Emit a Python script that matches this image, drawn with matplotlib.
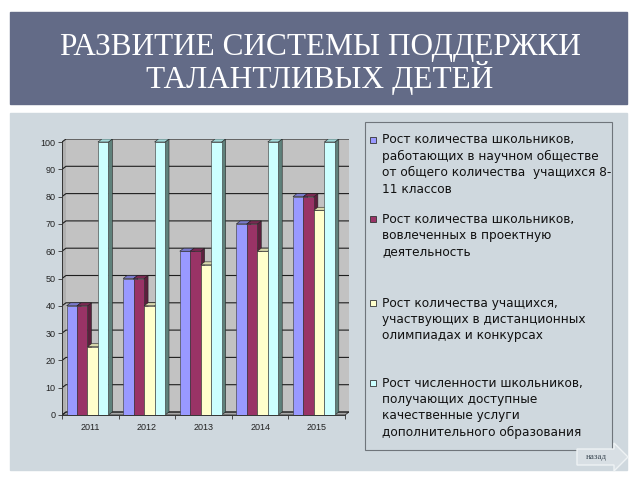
import matplotlib
matplotlib.use('Agg')
import matplotlib.pyplot as plt
from matplotlib.patches import Rectangle, Polygon

# данные
years = ['2011', '2012', '2013', '2014', '2015']
sci_society = [40, 50, 60, 70, 80]
projects = [40, 50, 60, 70, 80]
distance_olymp = [25, 40, 55, 60, 75]
extra_edu = [100, 100, 100, 100, 100]

legend_labels = [
    ['Рост количества школьников,', 'работающих в научном обществе',
     'от общего количества  учащихся 8-', '11 классов'],
    ['Рост количества школьников,', 'вовлеченных в проектную', 'деятельность'],
    ['Рост количества учащихся,', 'участвующих в дистанционных',
     'олимпиадах и конкурсах'],
    ['Рост численности школьников,', 'получающих доступные',
     'качественные услуги', 'дополнительного образования'],
]

series = [sci_society, projects, distance_olymp, extra_edu]
front_cols = ['#9999ff', '#993366', '#ffffcc', '#ccffff']
side_cols = ['#6b6bb3', '#5c1f3d', '#b3b38f', '#5f817b']
top_cols = ['#7a7acc', '#7a2952', '#d9d9ad', '#a3d9d9']

W, H = 640, 480
fig = plt.figure(figsize=(6.4, 4.8), dpi=100)
fig.patch.set_facecolor('white')

# фон слайда
bg = fig.add_axes([0, 0, 1, 1])
bg.set_xlim(0, W)
bg.set_ylim(H, 0)
bg.axis('off')
bg.add_patch(Rectangle((10, 12), 617, 92, color='#636b87'))
bg.add_patch(Rectangle((10, 113), 617, 357, color='#cfd8de'))
bg.text(320, 48, 'РАЗВИТИЕ СИСТЕМЫ ПОДДЕРЖКИ', color='white', ha='center',
        va='center', fontsize=22.5, family='Liberation Serif')
bg.text(320, 78, 'ТАЛАНТЛИВЫХ ДЕТЕЙ', color='white', ha='center',
        va='center', fontsize=22.5, family='Liberation Serif')

# легенда
bg.add_patch(Rectangle((365, 122), 247, 328, fill=False, ec='#6f757b', lw=0.8))
starts = [140, 219, 303, 383]
for i, lines in enumerate(legend_labels):
    y0 = starts[i]
    bg.add_patch(Rectangle((370, y0 - 3), 6, 6, fc=front_cols[i], ec='#333333', lw=0.6))
    for j, ln in enumerate(lines):
        bg.text(382, y0 + j * 16.4, ln, fontsize=8.7, va='center', ha='left',
                color='#111111', family='DejaVu Sans')

# кнопка "назад"
bg.add_patch(Polygon([(577, 449), (614, 449), (614, 443), (628, 457),
                      (614, 471), (614, 465), (577, 465)],
                     fc='#d8dfe4', ec='#eef2f4', lw=1))
bg.text(596, 457, 'назад', fontsize=6.5, ha='center', va='center',
        color='#3d4a55', family='Liberation Serif')

# диаграмма
px_unit = 56.6
dx = 4 / px_unit
px_y = (415 - 142) / 100
dy = 3 / px_y
n = len(years)
left_px = 62
right_px = left_px + (n + dx) * px_unit
top_px = 415 - (100 + dy) * px_y
ax = fig.add_axes([left_px / W, (H - 415) / H, (right_px - left_px) / W,
                   (415 - top_px) / H])
ax.set_xlim(-0.5, n - 0.5 + dx)
ax.set_ylim(0, 100 + dy)
ax.patch.set_alpha(0)

# стены и пол
ax.add_patch(Polygon([(-0.5 + dx, dy), (n - 0.5 + dx, dy), (n - 0.5 + dx, 100 + dy),
                      (-0.5 + dx, 100 + dy)], fc='#c2c2c2', ec='none', zorder=0))
ax.add_patch(Polygon([(-0.5, 0), (-0.5 + dx, dy), (-0.5 + dx, 100 + dy), (-0.5, 100)],
                     fc='#b0b0b0', ec='none', zorder=0))
ax.add_patch(Polygon([(-0.5, 0), (n - 0.5, 0), (n - 0.5 + dx, dy), (-0.5 + dx, dy)],
                     fc='#a8a8a8', ec='#333333', lw=0.6, zorder=0.5))
for v in range(0, 101, 10):
    ax.plot([-0.5, -0.5 + dx, n - 0.5 + dx], [v, v + dy, v + dy],
            color='#1e1e1e', lw=0.8, zorder=0.6)
ax.plot([n - 0.5 + dx, n - 0.5 + dx], [dy, 100 + dy], color='#444444', lw=0.6, zorder=0.6)

# столбцы
bw = 0.185
base = -0.42
for c in range(n):
    for s in range(4):
        v = series[s][c]
        x0 = c + base + s * bw
        x1 = x0 + bw
        ax.add_patch(Polygon([(x1, 0), (x1 + dx, dy), (x1 + dx, v + dy), (x1, v)],
                             fc=side_cols[s], ec='#222222', lw=0.4, zorder=2 + s * 0.1 + c))
        ax.bar(x0, v, width=bw, align='edge', color=front_cols[s], ec='#333333',
               lw=0.4, zorder=2.01 + s * 0.1 + c)
        ax.add_patch(Polygon([(x0, v), (x1, v), (x1 + dx, v + dy), (x0 + dx, v + dy)],
                             fc=top_cols[s], ec='#222222', lw=0.4, zorder=2.02 + s * 0.1 + c))

# оси
for sp in ['top', 'right']:
    ax.spines[sp].set_visible(False)
ax.spines['left'].set_bounds(0, 100)
ax.spines['bottom'].set_bounds(-0.5, n - 0.5)
ax.spines['left'].set_color('#333333')
ax.spines['bottom'].set_color('#333333')
ax.spines['left'].set_linewidth(0.7)
ax.spines['bottom'].set_linewidth(0.7)
ax.set_yticks(range(0, 101, 10))
ax.tick_params(axis='y', labelsize=6.5, length=3, width=0.6, color='#333333',
               labelcolor='#222222', pad=1.5)
ax.set_xticks([i - 0.5 for i in range(n + 1)])
ax.set_xticklabels([])
ax.tick_params(axis='x', length=3, width=0.6, color='#333333')
ax.set_xticks(range(n), minor=True)
ax.set_xticklabels(years, minor=True, fontsize=6.5, family='Liberation Sans', color='#222222')
ax.tick_params(axis='x', which='minor', length=0, pad=6)
for lbl in ax.get_yticklabels():
    lbl.set_family('Liberation Sans')

fig.savefig('out.png', dpi=100)
